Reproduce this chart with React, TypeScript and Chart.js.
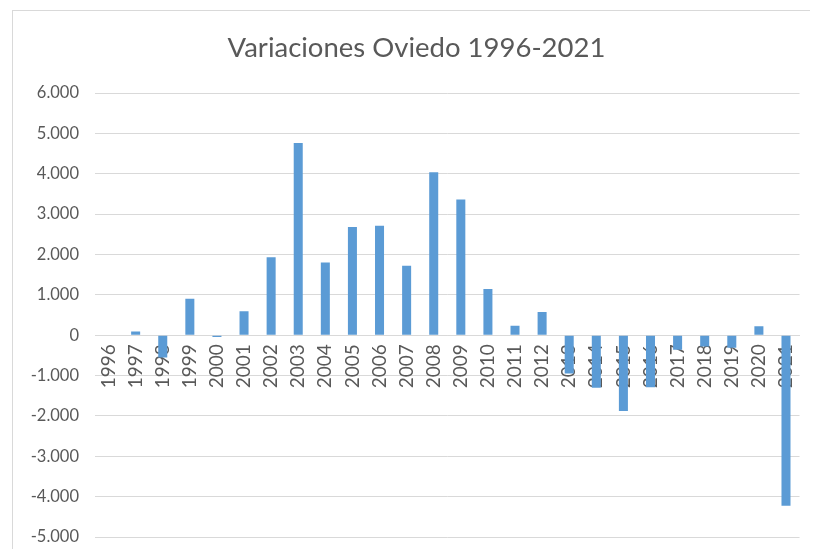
import React, { useEffect, useRef } from "react";
import { Chart, registerables } from "chart.js";

Chart.register(...registerables);

const years = [
  "1996", "1997", "1998", "1999", "2000", "2001", "2002", "2003", "2004",
  "2005", "2006", "2007", "2008", "2009", "2010", "2011", "2012", "2013",
  "2014", "2015", "2016", "2017", "2018", "2019", "2020", "2021",
];

const variaciones = [
  0, 90, -550, 905, -45, 590, 1930, 4760, 1800, 2680, 2710, 1720, 4035, 3360,
  1145, 235, 575, -950, -1300, -1880, -1290, -360, -280, -310, 220, -4225,
];

const titleText = "Variaciones Oviedo 1996-2021";
const yMin = -5000;
const yMax = 6000;
const yStep = 1000;

const fmt = (v: number) => {
  const s = Math.round(Math.abs(v))
    .toString()
    .replace(/\B(?=(\d{3})+(?!\d))/g, ".");
  return (v < 0 ? "-" : "") + s;
};

export default function App() {
  const ref = useRef<HTMLCanvasElement | null>(null);

  useEffect(() => {
    if (!ref.current) return;
    const chart = new Chart(ref.current, {
      type: "bar",
      data: {
        labels: years,
        datasets: [
          {
            label: "Variaciones",
            data: variaciones,
            backgroundColor: "#5b9bd5",
            borderWidth: 0,
            barPercentage: 1,
            categoryPercentage: 0.333,
          },
        ],
      },
      options: {
        responsive: false,
        animation: false,
        devicePixelRatio: 1,
        layout: { padding: { left: 18, right: 11, top: 10, bottom: 12 } },
        plugins: {
          legend: { display: false },
          tooltip: { enabled: false },
          title: {
            display: true,
            text: titleText,
            color: "#595959",
            font: { family: "Lato", size: 27.5, weight: "normal" },
            padding: { top: 14, bottom: 28 },
          },
        },
        scales: {
          x: {
            position: { y: 0 } as any,
            z: 1,
            grid: { display: false, drawTicks: false },
            border: { display: true, color: "#d9d9d9", width: 1 },
            ticks: {
              autoSkip: false,
              minRotation: 90,
              maxRotation: 90,
              padding: 9,
              color: "#595959",
              font: { family: "Lato", size: 19 },
            },
          },
          y: {
            min: yMin,
            max: yMax,
            afterFit: (scale: any) => {
              scale.width = 69;
              scale.paddingTop = 0;
              scale.paddingBottom = 0;
            },
            grid: { color: "#d9d9d9", lineWidth: 1, drawTicks: false },
            border: { display: false },
            ticks: {
              stepSize: yStep,
              padding: 16,
              color: "#595959",
              font: { family: "Lato", size: 16.5 },
              callback: (v: any) => fmt(Number(v)),
            },
          },
        },
      },
    });
    return () => chart.destroy();
  }, []);

  return (
    <div style={{ position: "relative", width: 810, height: 541, overflow: "hidden" }}>
      <div
        style={{
          position: "absolute",
          left: 4,
          top: 2,
          width: 806,
          height: 539,
          borderTop: "1px solid #d9d9d9",
          borderLeft: "1px solid #d9d9d9",
          boxSizing: "border-box",
        }}
      />
      <canvas
        ref={ref}
        width={810}
        height={541}
        style={{ position: "absolute", left: 0, top: 0 }}
      />
    </div>
  );
}
